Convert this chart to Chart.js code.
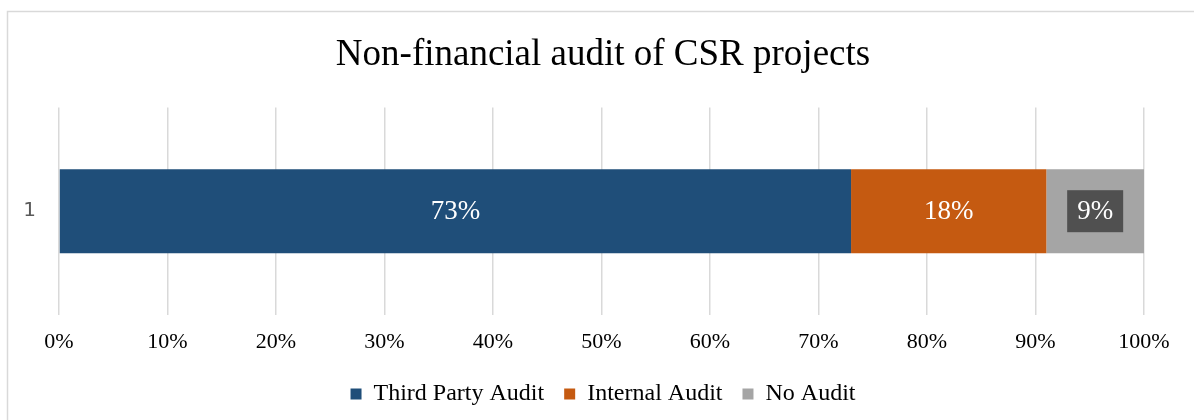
<!DOCTYPE html>
<html>
<head>
<meta charset="utf-8">
<script src="https://cdn.jsdelivr.net/npm/chart.js@4"></script>
<style>
  html, body { margin: 0; padding: 0; background: #ffffff; }
  #wrap { position: relative; width: 1194px; height: 420px; }
</style>
</head>
<body>
<div id="wrap"><canvas id="auditChart"></canvas></div>
<script>
// Share of CSR projects by type of non-financial audit
const categories = ['1'];
const thirdParty = [73];
const internal = [18];
const noAudit = [9];
const seriesNames = ['Third Party Audit', 'Internal Audit', 'No Audit'];
const tickLabels = ['0%', '10%', '20%', '30%', '40%', '50%', '60%', '70%', '80%', '90%', '100%'];

const serif = "'Liberation Serif', 'Times New Roman', serif";

// thin frame around the chart (top and left edges show inside the window)
const framePlugin = {
  id: 'frame',
  beforeDraw(chart) {
    const c = chart.ctx;
    c.save();
    c.strokeStyle = '#d9d9d9';
    c.lineWidth = 1.5;
    c.strokeRect(7.5, 11.5, chart.width + 20, chart.height + 20);
    c.restore();
  }
};

// percent labels centred on each segment; the small segment gets a dark box
const segmentLabels = {
  id: 'segmentLabels',
  afterDatasetsDraw(chart) {
    const c = chart.ctx;
    c.save();
    c.font = '27px ' + serif;
    c.textAlign = 'center';
    c.textBaseline = 'middle';
    chart.data.datasets.forEach((ds, i) => {
      const meta = chart.getDatasetMeta(i);
      meta.data.forEach((bar, j) => {
        const text = ds.data[j] + '%';
        const cx = (bar.x + bar.base) / 2;
        const cy = bar.y;
        if (ds.boxed) {
          const w = c.measureText(text).width + 20;
          c.fillStyle = '#505050';
          c.fillRect(cx - w / 2, cy - 21, w, 42);
        }
        c.fillStyle = '#ffffff';
        c.fillText(text, cx, cy + 1);
      });
    });
    c.restore();
  }
};

const ctx = document.getElementById('auditChart').getContext('2d');
const auditChart = new Chart(ctx, {
  type: 'bar',
  data: {
    labels: categories,
    datasets: [
      { label: seriesNames[0], data: thirdParty, backgroundColor: '#1f4e79' },
      { label: seriesNames[1], data: internal, backgroundColor: '#c55a11' },
      { label: seriesNames[2], data: noAudit, backgroundColor: '#a5a5a5', boxed: true }
    ]
  },
  options: {
    indexAxis: 'y',
    responsive: true,
    maintainAspectRatio: false,
    animation: false,
    barPercentage: 0.405,
    categoryPercentage: 1,
    layout: { padding: { top: 0, left: 12, right: 0, bottom: 4 } },
    scales: {
      x: {
        stacked: true,
        min: 0,
        max: 100,
        grid: { color: '#d9d9d9', lineWidth: 1.5, drawTicks: false },
        border: { display: false },
        ticks: {
          stepSize: 10,
          padding: 14,
          color: '#000000',
          font: { family: serif, size: 22 },
          callback: (v, i) => tickLabels[i]
        },
        afterFit(scale) { scale.height = 47; }
      },
      y: {
        stacked: true,
        grid: { display: false },
        border: { display: false },
        ticks: {
          padding: 15,
          color: '#595959',
          font: { family: "'DejaVu Sans', sans-serif", size: 20 }
        },
        afterFit(scale) { scale.width = 47; }
      },
      // empty right-hand axis that keeps room after the 100% line
      yRight: {
        position: 'right',
        grid: { display: false },
        border: { display: false },
        ticks: { display: false },
        afterFit(scale) { scale.width = 50; }
      }
    },
    plugins: {
      title: {
        display: true,
        text: 'Non-financial audit of CSR projects',
        color: '#000000',
        font: { family: serif, size: 37, weight: 'normal' },
        padding: { top: 33, bottom: 30 }
      },
      legend: {
        position: 'bottom',
        labels: {
          boxWidth: 11,
          boxHeight: 11,
          padding: 20,
          color: '#000000',
          font: { family: serif, size: 24 }
        }
      },
      tooltip: { enabled: false }
    }
  },
  plugins: [framePlugin, segmentLabels]
});
</script>
</body>
</html>
